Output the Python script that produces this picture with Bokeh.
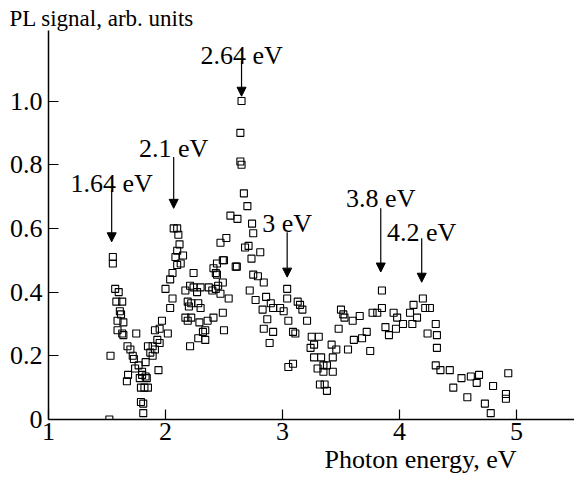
from bokeh.plotting import figure
from bokeh.models import Label, Arrow, NormalHead, FixedTicker, Range1d, Title
from bokeh.embed import file_html
from bokeh.resources import INLINE

FONT = "Liberation Serif"
FS = "26px"

# Photoluminescence spectrum: photon energy (eV) and PL signal (arb. units)
energy = [
    1.52, 1.55, 1.55, 1.57, 1.60, 1.58, 1.63, 1.61, 1.62, 1.59, 1.64, 1.59, 1.63, 1.64,
    1.75, 1.53, 1.675, 1.70, 1.72, 1.73, 1.77, 1.83, 1.74, 1.80, 1.84, 1.78, 1.68, 1.80,
    1.83, 1.67, 1.94, 1.79, 1.85, 1.82, 1.79, 1.81, 1.81,
    1.85, 1.87, 1.89, 1.91, 1.89, 1.93, 1.95, 1.91, 1.95, 2.02, 1.97, 2.04, 2.06, 2.00,
    2.04, 2.06, 2.10, 2.085, 2.10, 2.15, 2.13, 2.07, 2.10, 2.11, 2.12,
    2.24, 2.21, 2.24, 2.30, 2.19, 2.22, 2.28, 2.30, 2.36, 2.34, 2.29, 2.22, 2.19, 2.21,
    2.28, 2.34, 2.37, 2.40, 2.43, 2.45, 2.47, 2.54, 2.49, 2.50, 2.41, 2.32, 2.17, 2.20,
    2.17, 2.27, 2.52, 2.47, 2.49, 2.44, 2.50, 2.41, 2.43, 2.44, 2.49, 2.555, 2.615,
    2.60, 2.61,
    2.65, 2.64, 2.64, 2.65, 2.67, 2.70, 2.74, 2.75, 2.71, 2.81, 2.735, 2.68,
    2.75, 2.79, 2.84, 2.72, 2.77, 2.86, 2.90, 2.83, 2.92, 2.98, 3.01, 3.04, 3.04, 3.05,
    3.09, 3.11, 2.87, 2.84, 2.92, 2.89, 3.05, 3.09, 3.13, 3.15, 3.17, 3.21,
    3.25, 3.31, 3.27, 3.24, 3.27, 3.33, 3.43, 3.42, 3.46, 3.30, 3.35, 3.38, 3.43, 3.35,
    3.32, 3.36, 3.38,
    3.50, 3.52, 3.53, 3.60, 3.66, 3.48, 3.56, 3.61, 3.68, 3.72, 3.75, 3.77, 3.81, 3.85,
    3.85, 3.88, 3.91, 3.95, 3.98, 4.03, 3.97, 4.09, 4.12, 4.15, 4.11, 4.20, 4.22, 4.26,
    4.31, 4.24, 4.32, 4.32,
    4.31, 4.35, 4.43, 4.53, 4.46, 4.61, 4.68, 4.66, 4.58, 4.80, 4.73, 4.78, 4.93, 4.91,
    4.91,
]
pl_signal = [
    0.00, 0.51, 0.49, 0.41, 0.40, 0.37, 0.37, 0.34, 0.33, 0.31, 0.305, 0.28, 0.27, 0.265,
    0.27, 0.20, 0.23, 0.22, 0.20, 0.19, 0.17, 0.18, 0.16, 0.15, 0.13, 0.13, 0.14, 0.14,
    0.135, 0.12, 0.155, 0.10, 0.10, 0.10, 0.055, 0.05, 0.02,
    0.23, 0.21, 0.20, 0.22, 0.23, 0.25, 0.24, 0.28, 0.285, 0.27, 0.31, 0.35, 0.38, 0.41,
    0.44, 0.46, 0.485, 0.51, 0.53, 0.515, 0.49, 0.60, 0.60, 0.58, 0.55,
    0.46, 0.42, 0.415, 0.415, 0.37, 0.365, 0.365, 0.35, 0.31, 0.28, 0.305, 0.32, 0.31, 0.23,
    0.255, 0.25, 0.415, 0.405, 0.41, 0.42, 0.395, 0.38, 0.335, 0.28, 0.32, 0.275, 0.405, 0.355,
    0.32, 0.40, 0.57, 0.555, 0.50, 0.49, 0.50, 0.475, 0.46, 0.455, 0.43, 0.64, 0.63,
    0.48, 0.48,
    1.00, 0.90, 0.81, 0.80, 0.71, 0.67, 0.615, 0.585, 0.545, 0.525, 0.505, 0.54,
    0.455, 0.45, 0.43, 0.405, 0.375, 0.385, 0.365, 0.345, 0.35, 0.35, 0.34, 0.41, 0.38, 0.31,
    0.275, 0.27, 0.315, 0.285, 0.275, 0.24, 0.165, 0.175, 0.37, 0.36, 0.345, 0.31,
    0.26, 0.26, 0.235, 0.225, 0.195, 0.195, 0.195, 0.235, 0.22, 0.16, 0.15, 0.17, 0.15, 0.17,
    0.11, 0.11, 0.09,
    0.345, 0.33, 0.32, 0.31, 0.325, 0.285, 0.22, 0.25, 0.255, 0.275, 0.215, 0.335, 0.335, 0.35,
    0.405, 0.29, 0.265, 0.335, 0.32, 0.30, 0.285, 0.335, 0.36, 0.32, 0.30, 0.38, 0.35, 0.35,
    0.30, 0.27, 0.265, 0.225,
    0.17, 0.155, 0.155, 0.13, 0.10, 0.135, 0.14, 0.115, 0.07, 0.105, 0.05, 0.02, 0.145, 0.08,
    0.065,
]

# Peak annotations: label text, arrow position, arrow top/tip, label baseline
peak_labels = ["1.64 eV", "2.1 eV", "2.64 eV", "3 eV", "3.8 eV", "4.2 eV"]
arrow_x = [1.54, 2.07, 2.65, 3.04, 3.84, 4.19]
arrow_top = [0.720, 0.824, 1.125, 0.588, 0.663, 0.569]
arrow_tip = [0.558, 0.663, 1.015, 0.447, 0.463, 0.431]
label_y = [0.742, 0.852, 1.144, 0.616, 0.695, 0.588]

x_ticks = [1, 2, 3, 4, 5]
y_ticks = [0, 0.2, 0.4, 0.6, 0.8, 1.0]
y_tick_text = ["0", "0.2", "0.4", "0.6", "0.8", "1.0"]

p = figure(width=574, height=481, output_backend="svg", toolbar_location=None,
           x_range=Range1d(1.0, 5.496), y_range=Range1d(0.0, 1.2214),
           min_border_left=48, min_border_right=0, min_border_top=30,
           min_border_bottom=62)
p.outline_line_color = None
p.xgrid.visible = False
p.ygrid.visible = False
p.background_fill_color = "white"
p.border_fill_color = "white"

# y-axis title sits above the frame, starting near the left edge
p.title.text = "PL signal, arb. units"
p.title.align = "left"
p.title.offset = -39
p.title.standoff = 0
p.title.text_font = FONT
p.title.text_font_size = "23px"
p.title.text_font_style = "normal"
p.title.text_color = "black"

for ax in (p.xaxis[0], p.yaxis[0]):
    ax.axis_line_width = 1.5
    ax.axis_line_color = "black"
    ax.major_tick_in = 10
    ax.major_tick_out = 0
    ax.major_tick_line_width = 1.2
    ax.minor_tick_in = 0
    ax.minor_tick_out = 0
    ax.major_label_text_font = FONT
    ax.major_label_text_font_size = FS
    ax.major_label_text_color = "black"
p.xaxis.major_label_standoff = 3
p.yaxis.major_label_standoff = 6

p.xaxis.ticker = FixedTicker(ticks=x_ticks)
p.yaxis.ticker = FixedTicker(ticks=y_ticks)
p.yaxis.major_label_overrides = {t: s for t, s in zip(y_ticks, y_tick_text)}

# x-axis title below the tick labels, pushed toward the right
p.add_layout(Title(text="Photon energy, eV", align="left", offset=276, standoff=0,
                   text_font=FONT, text_font_size=FS, text_font_style="normal",
                   text_color="black"), "below")

p.scatter(energy, pl_signal, marker="square", size=7, fill_color=None,
          line_color="black", line_width=1.1)

for txt, ax_, top, tip, ly in zip(peak_labels, arrow_x, arrow_top, arrow_tip, label_y):
    p.add_layout(Arrow(end=NormalHead(size=9, fill_color="black", line_color="black"),
                       x_start=ax_, y_start=top, x_end=ax_, y_end=tip,
                       line_color="black", line_width=1.2))
    p.add_layout(Label(x=ax_, y=ly, text=txt, text_align="center",
                       text_baseline="alphabetic", text_font=FONT,
                       text_font_size=FS, text_color="black"))

open("out.html", "w").write(file_html(p, INLINE))
